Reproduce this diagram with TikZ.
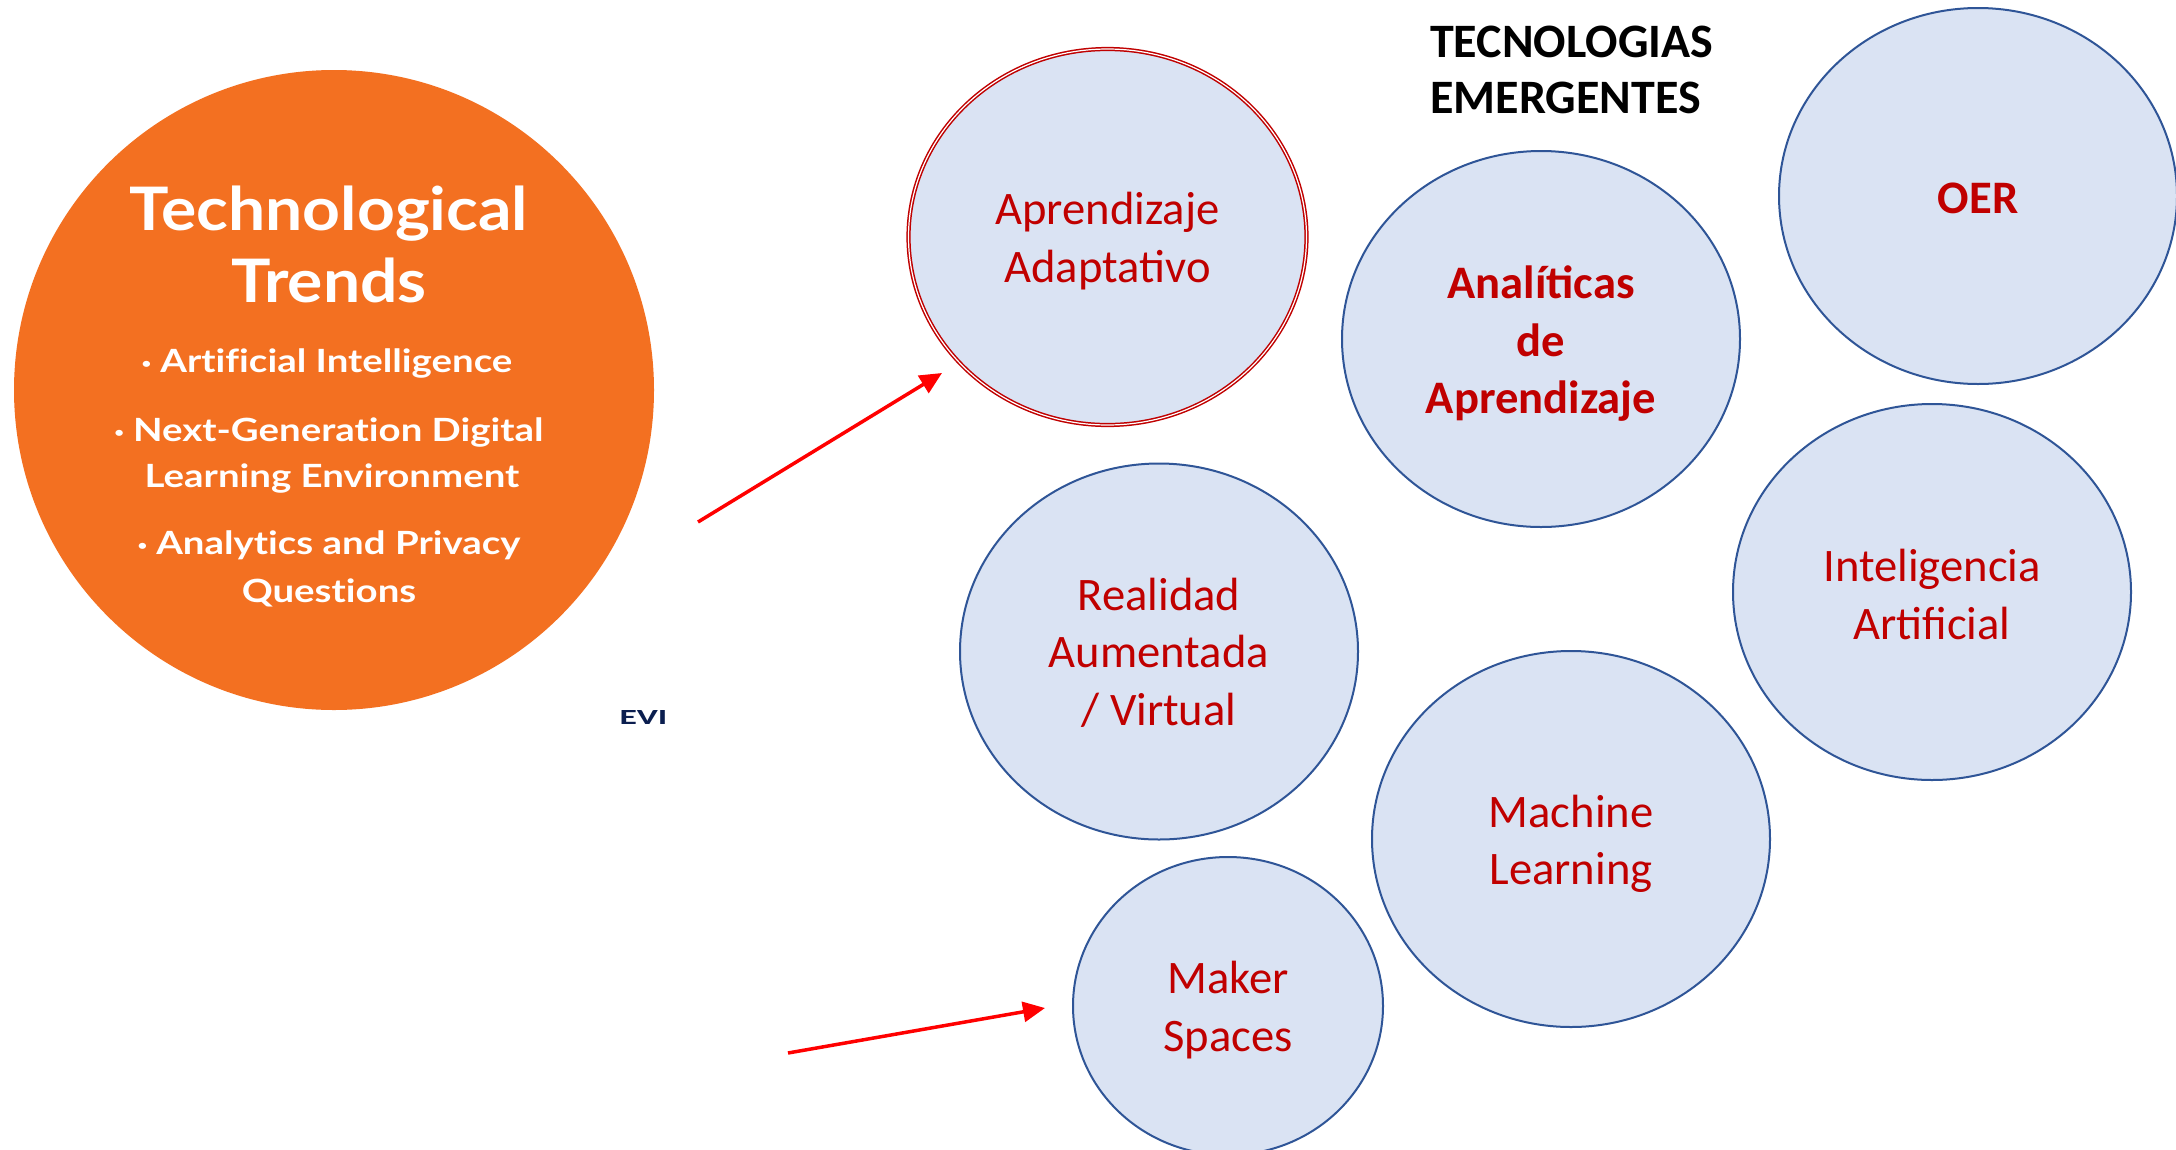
\documentclass[tikz,border=0pt]{standalone}
\usepackage{fontspec}
\usepackage{graphicx}
\setmainfont{Carlito}
\newfontfamily\latotitle[FakeStretch=1.1,Ligatures=NoCommon]{Lato}
\newfontfamily\latobullet[FakeStretch=1.2,Ligatures=NoCommon]{Lato}
\usetikzlibrary{shapes.geometric,arrows.meta}
\definecolor{orng}{HTML}{F37021}
\definecolor{ellfill}{HTML}{DAE3F3}
\definecolor{elldraw}{HTML}{2F5597}
\definecolor{txtred}{HTML}{C00000}
\definecolor{evicol}{HTML}{0B1E4F}
\newcommand{\smallbul}{\raisebox{4pt}{\fontsize{14}{14}\selectfont\textbullet}\hspace{9pt}}
\begin{document}
\begin{tikzpicture}[x=1pt,y=-1pt,
  techell/.style={ellipse, fill=ellfill, draw=elldraw, line width=2pt,
    minimum width=398pt, minimum height=376pt, inner sep=0pt},
  techtext/.style={inner sep=0pt, align=center, text=txtred,
    font=\fontsize{46.6}{57.5}\selectfont},
  techbold/.style={techtext, font=\bfseries\fontsize{46.6}{57.5}\selectfont},
  redarrow/.style={draw=red, line width=3.5pt, -{Triangle[length=22pt,width=20pt]}},
  whitetitle/.style={text=white, inner sep=0pt, anchor=base, font=\latotitle\bfseries\fontsize{60}{72}\selectfont},
  whitebullet/.style={text=white, inner sep=0pt, anchor=base, font=\latobullet\bfseries\fontsize{32}{40}\selectfont},
  headline/.style={inner sep=0pt, anchor=base west, font=\bfseries\fontsize{48}{56}\selectfont}
]
\clip (0,0) rectangle (2176,1149);
\useasboundingbox (0,0) rectangle (2176,1149);
\fill[white] (0,0) rectangle (2176,1149);

% orange circle
\node[circle, fill=orng, minimum size=640pt, inner sep=0pt] (trend) at (334,390) {};
\node[whitetitle] (t1) at (329,230) {Technological};
\node[whitetitle] (t2) at (329,302) {Trends};
\node[whitebullet] (b1) at (327,372) {\smallbul Artificial Intelligence};
\node[whitebullet] (b2) at (329,441) {\smallbul Next-Generation Digital};
\node[whitebullet] (b3) at (332,487) {Learning Environment};
\node[whitebullet] (b4) at (329,554) {\smallbul Analytics and Privacy};
\node[whitebullet] (b5) at (329,602) {Questions};
\node[inner sep=0pt, text=evicol, font=\bfseries\fontsize{20}{20}\selectfont] (evi) at (643.5,717) {\resizebox{48pt}{14pt}{EVI}};

% heading
\node[headline] (h1) at (1430,57) {TECNOLOGIAS};
\node[headline] (h2) at (1430,113) {EMERGENTES};

% ellipses
\node[techell, draw=txtred, double=white, double distance=1.2pt, line width=1.5pt] (adapt) at (1107.5,237) {};
\node[techell] (anal) at (1541,339) {};
\node[techell] (oer) at (1978,196) {};
\node[techell] (ia) at (1932,592) {};
\node[techell] (rv) at (1159,651.5) {};
\node[techell] (ml) at (1571,839) {};
\node[techell, minimum width=310pt, minimum height=298pt] (maker) at (1228,1006) {};

\node[techtext] (adaptT) at ([yshift=-4pt]adapt.center) {Aprendizaje\\Adaptativo};
\node[techbold] (analT) at ([yshift=-5pt]anal.center) {Analíticas\\de\\Aprendizaje};
\node[techbold] (oerT) at ([yshift=-2pt]oer.center) {OER};
\node[techtext] (iaT) at ([yshift=-2.5pt]ia.center) {Inteligencia\\Artificial};
\node[techtext] (rvT) at ([yshift=-1pt]rv.center) {Realidad\\Aumentada\\/ Virtual};
\node[techtext] (mlT) at ([yshift=-5pt]ml.center) {Machine\\Learning};
\node[techtext] (makerT) at ([yshift=-4pt]maker.center) {Maker\\Spaces};

% arrows
\coordinate (a1s) at (698,522);
\coordinate (a1e) at (942,373);
\coordinate (a2s) at (788,1053);
\coordinate (a2e) at (1045,1008);
\draw[redarrow] (a1s) -- (a1e);
\draw[redarrow] (a2s) -- (a2e);
\end{tikzpicture}
\end{document}
